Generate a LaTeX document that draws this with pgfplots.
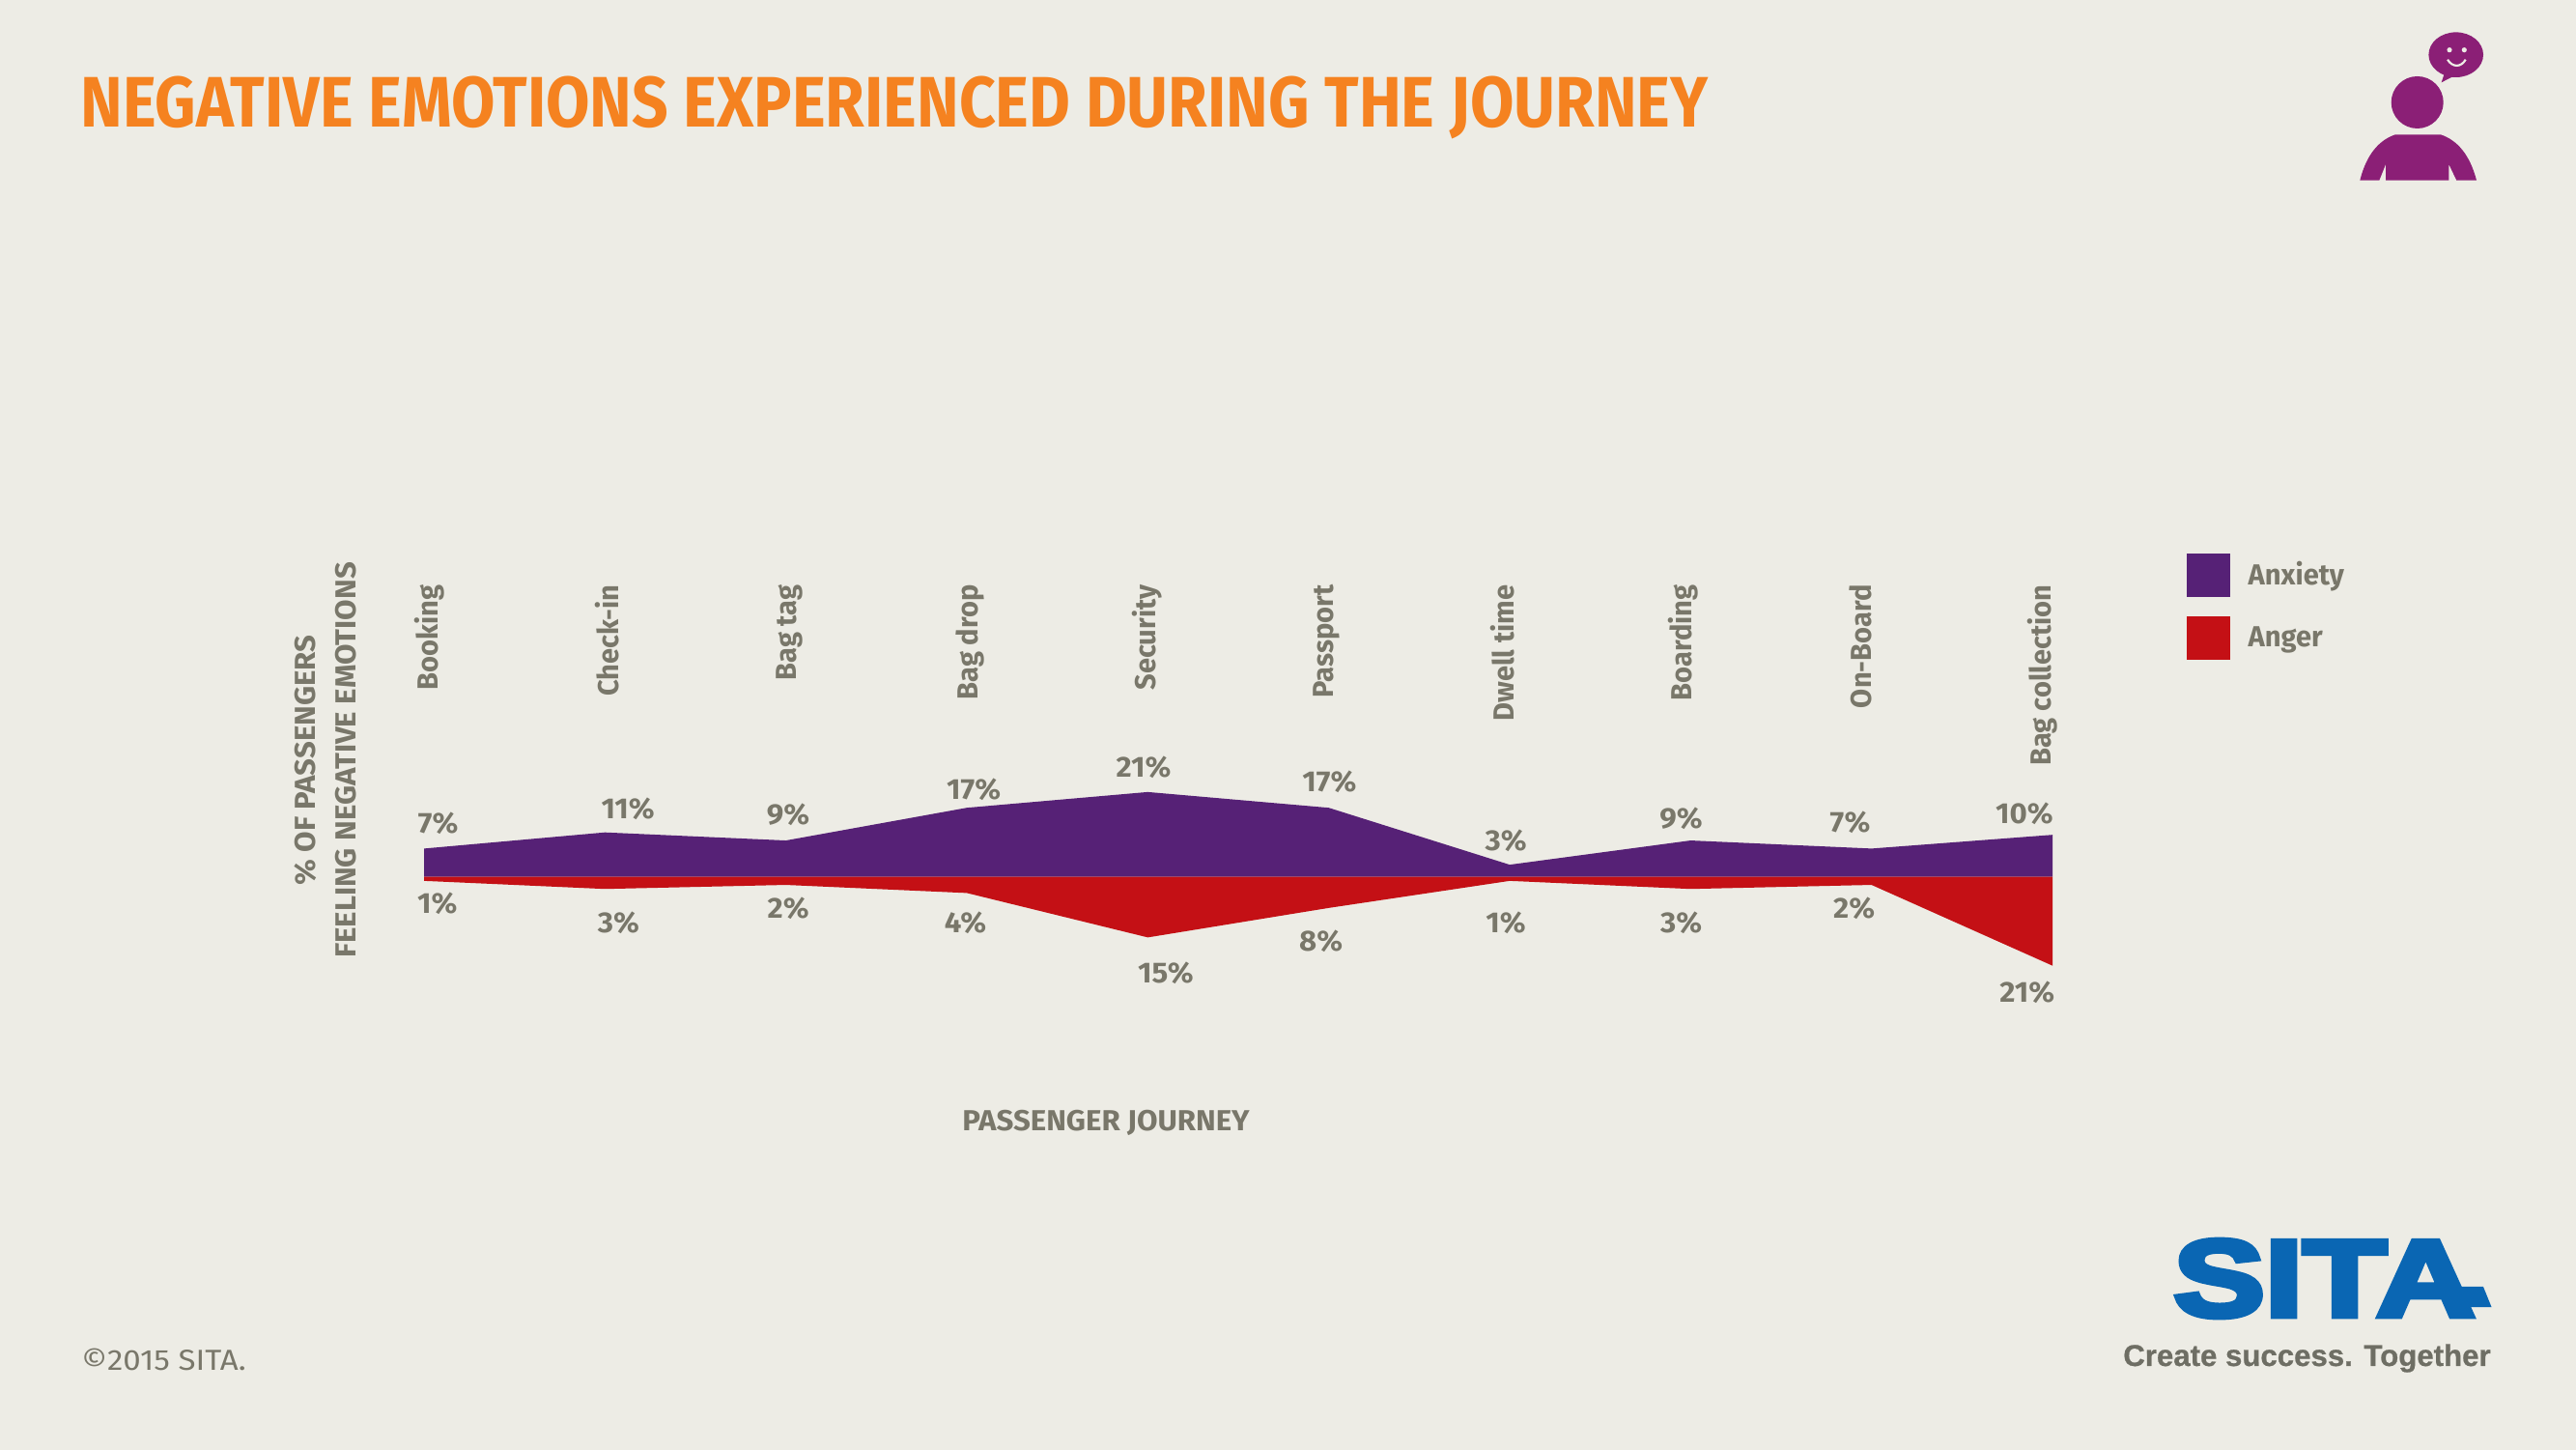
\documentclass[border=0pt]{standalone}
\usepackage{fontspec}
\usepackage{graphicx}
\usepackage{pgfplots}
\pgfplotsset{compat=1.18}
\newfontfamily\dint[FakeStretch=0.89]{Fira Sans}
\newfontfamily\dina[FakeStretch=1.04]{Fira Sans}
\newfontfamily\dinb[FakeStretch=0.97]{Fira Sans}
\newfontfamily\dinc[FakeStretch=1.1]{Fira Sans}
\newfontfamily\tagfont[FakeBold=0.7]{Liberation Sans}
\newfontfamily\logofont[FakeBold=5]{Liberation Sans}
\definecolor{bg}{HTML}{EDECE5}
\definecolor{txt}{HTML}{79776A}
\definecolor{anx}{HTML}{562176}
\definecolor{ang}{HTML}{C41015}
\definecolor{org}{HTML}{F58220}
\definecolor{ico}{HTML}{8B1F76}
\definecolor{sita}{HTML}{0A66B3}
\definecolor{tag}{HTML}{6E6E64}
\begin{document}
\begin{tikzpicture}[x=1pt,y=1pt]
\path[use as bounding box] (0,0) rectangle (1333.5pt,750pt);
\fill[bg] (-3pt,-3pt) rectangle (1336.5pt,753pt);
\begin{scope}[x=0.5pt,y=-0.5pt,yshift=750pt]
% title
\node[anchor=west,inner sep=0,text=org] at (83,111) {\fontsize{37}{37}\selectfont\dint\bfseries NEGATIVE EMOTIONS EXPERIENCED DURING THE JOURNEY};
\node[anchor=west,inner sep=0,text=txt] at (84,1407) {\fontsize{15}{15}\selectfont\dinc ©2015 SITA.};
% person icon
\fill[ico] (2502.7,106) circle (27);
\fill[ico] (2443.3,186.7) .. controls (2450,160) and (2463,145) .. (2480,139.3) -- (2526.7,139.3) .. controls (2544,145) and (2557,160) .. (2564,186.7) -- (2543.3,186.7) -- (2535.3,170) -- (2535.3,186.7) -- (2470,186.7) -- (2470,170) -- (2463.3,186.7) -- cycle;
\fill[ico] (2542.7,56.7) ellipse (28.3 and 23.3);
\fill[ico] (2532,72) -- (2527.7,85.3) -- (2546,76) -- cycle;
\fill[bg] (2536,51.7) circle (2.6) (2551.3,51.7) circle (2.6);
\draw[bg,line width=1.1pt] (2534,61.7) .. controls (2539,70) and (2548,70) .. (2552.7,61.7);
% logo
\node[anchor=south west,inner sep=0,text=sita] at (2250,1364) {\resizebox{156pt}{39.5pt}{\logofont\bfseries SITA}};
\fill[sita] (2540,1332) -- (2571,1332) -- (2579.5,1353) -- (2550,1353) -- cycle;
\node[anchor=east,inner sep=0,text=tag] at (2579,1406) {\fontsize{15.6}{15.6}\selectfont\tagfont\bfseries Create success. Together};
\end{scope}
\begin{axis}[
  at={(219.5pt,223pt)},anchor=south west,
  scale only axis,width=843pt,height=224.5pt,
  xmin=0,xmax=9,ymin=-35,ymax=72.4,
  clip=false,
  axis line style={draw=none},
  tick style={draw=none},
  ytick=\empty,
  xtick={0.03,1.014,2.02,3.02,3.995,4.99,5.96,6.96,7.94,8.945},
  xticklabels={Booking,Check-in,Bag tag,Bag drop,Security,Passport,Dwell time,Boarding,On-Board,Bag collection},
  xticklabel pos=upper,
  xticklabel style={rotate=90,anchor=east,inner sep=0pt,text=txt,font=\fontsize{15}{15}\selectfont\dinb\bfseries},
  xlabel={PASSENGER JOURNEY},
  xlabel style={at={(axis description cs:0.4187,-0.2405)},anchor=center,inner sep=0pt,text=txt,font=\fontsize{15}{15}\selectfont\dina\bfseries},
  ylabel={\% OF PASSENGERS\\FEELING NEGATIVE EMOTIONS},
  ylabel style={at={(axis description cs:-0.0605,0.5947)},anchor=center,align=center,inner sep=0pt,text=txt,font=\fontsize{15}{21}\selectfont\dina\bfseries},
  legend style={at={(axis description cs:1.0825,1.072)},anchor=north west,draw=none,fill=none,row sep=10pt,inner sep=0pt,outer sep=0pt,
    nodes={inner sep=0pt,text=txt,font=\fontsize{15}{15}\selectfont\dinb\bfseries},
    /tikz/every odd column/.append style={column sep=9.5pt}},
  legend cell align=left,
  legend image code/.code={\fill[#1] (0pt,-11.25pt) rectangle (22.3pt,11.25pt);},
]
\addplot[fill=anx,draw=none] coordinates {
(0,0)(0,7)(1,11)(2,9)(3,17.1)(4,21)(5,17.1)(6,3)(7,9)(8,7)(9,10.4)(9,0)};
\addlegendentry{Anxiety}
\addplot[fill=ang,draw=none] coordinates {
(0,0)(0,-1)(1,-3)(2,-2)(3,-4)(4,-15)(5,-7.7)(6,-1)(7,-3)(8,-2)(9,-22)(9,0)};
\addlegendentry{Anger}
\pgfplotsset{
  dl/.style={forget plot,draw=none,mark=none,point meta=explicit symbolic,
  nodes near coords={\pgfplotspointmeta\%},
  every node near coord/.append style={anchor=center,inner sep=0pt,yshift=-0.7pt,text=txt,font=\fontsize{15}{15}\selectfont\dina\bfseries}}}
\addplot[dl] table[meta=l] {
x y l
0.078 13.56 7
1.127 17.08 11
2.013 15.79 9
3.038 21.94 17
3.977 27.37 21
5.004 23.78 17
5.979 9.26 3
6.948 14.83 9
7.882 13.80 7
8.845 15.96 10
};
\addplot[dl] table[meta=l] {
x y l
0.074 -6.36 1
1.075 -11.15 3
2.013 -7.56 2
2.992 -11.15 4
4.099 -23.52 15
4.957 -15.55 8
5.979 -11.15 1
6.948 -11.15 3
7.904 -7.56 2
8.860 -28.30 21
};
\end{axis}
\end{tikzpicture}
\end{document}
